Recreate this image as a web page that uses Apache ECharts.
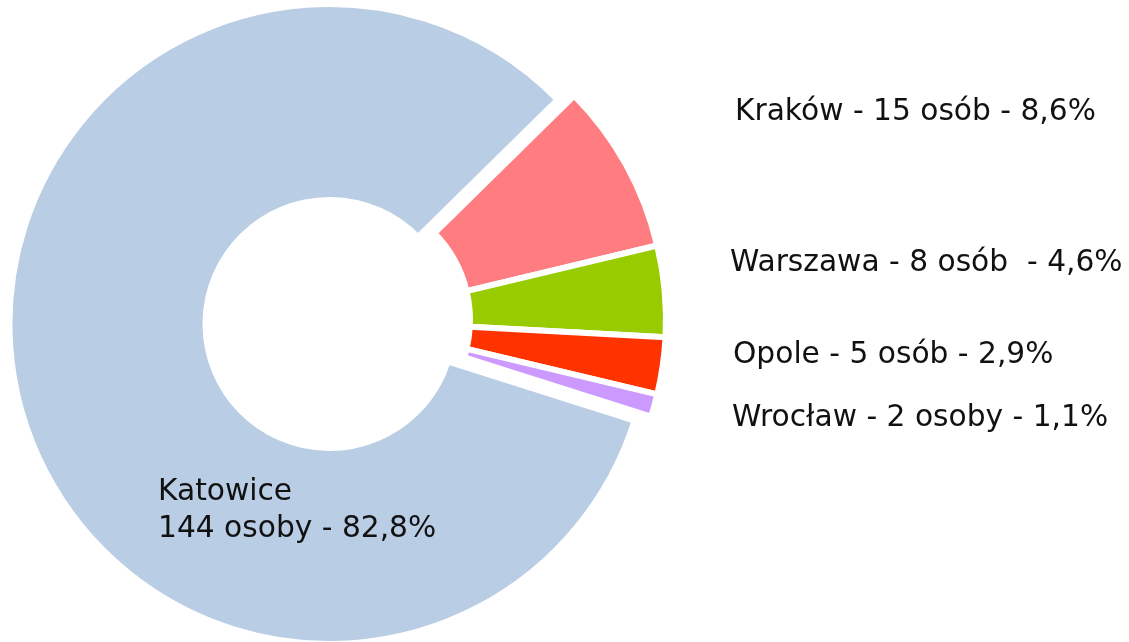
<!DOCTYPE html>
<html lang="pl" style="height: 100%">
<head>
  <meta charset="utf-8">
</head>
<body style="height: 100%; margin: 0; background: #fff">
  <div id="container" style="width: 1129px; height: 642px"></div>

  <script type="text/javascript" src="https://fastly.jsdelivr.net/npm/echarts@6/dist/echarts.min.js"></script>
  <script type="text/javascript">
    // dane
    var cities = ['Kraków', 'Warszawa', 'Opole', 'Wrocław', 'Katowice'];
    var counts = [15, 8, 5, 2, 144];
    var units = ['osób', 'osób ', 'osób', 'osoby', 'osoby'];
    var colors = ['#FF7C80', '#99CC00', '#FF3300', '#CC99FF', '#B9CDE5'];

    var total = counts.reduce(function (a, b) { return a + b; }, 0);
    function pct(v) {
      return (v / total * 100).toFixed(1).replace('.', ',') + '%';
    }

    // label anchor points (left edge, vertical middle) for the small slices
    var labelPos = [[735, 112], [730, 263], [733, 355], [732, 418]];

    var dom = document.getElementById('container');
    var myChart = echarts.init(dom, null, { renderer: 'canvas' });

    var textStyle = {
      color: '#111',
      fontFamily: 'DejaVu Sans',
      fontSize: 29.7,
      fontWeight: 'normal',
      lineHeight: 37
    };

    var option = {
      backgroundColor: '#ffffff',
      animation: false,
      // Katowice sits inside its own (exploded) slice
      title: {
        text: cities[4] + '\n' + counts[4] + ' ' + units[4] + ' - ' + pct(counts[4]),
        left: 153,
        top: 469,
        textStyle: textStyle
      },
      series: [
        {
          type: 'pie',
          center: [346, 320],
          radius: [124, 320],
          startAngle: 44.5,
          clockwise: true,
          selectedMode: 'single',
          selectedOffset: 17,
          emphasis: { disabled: true },
          itemStyle: { borderColor: '#ffffff', borderWidth: 6 },
          labelLine: { show: false },
          label: Object.assign({
            show: true,
            position: 'outside',
            overflow: 'none',
            formatter: function (p) {
              var i = p.dataIndex;
              return p.name + ' - ' + p.value + ' ' + units[i] + ' - ' + pct(p.value);
            }
          }, textStyle),
          labelLayout: function (params) {
            var pos = labelPos[params.dataIndex];
            if (!pos) return {};
            return { x: pos[0], y: pos[1], align: 'left', verticalAlign: 'middle' };
          },
          data: cities.map(function (c, i) {
            var d = {
              name: c,
              value: counts[i],
              selected: i === 4,
              itemStyle: { color: colors[i] }
            };
            if (i === 4) d.label = { show: false };
            return d;
          })
        }
      ]
    };

    myChart.setOption(option);
    window.addEventListener('resize', myChart.resize);
  </script>
</body>
</html>
